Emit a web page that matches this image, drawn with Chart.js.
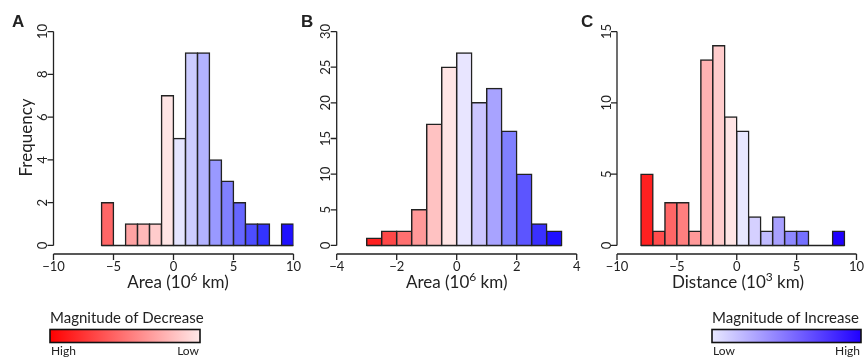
<!DOCTYPE html>
<html>
<head>
<meta charset="utf-8">
<script src="https://cdn.jsdelivr.net/npm/chart.js@4/dist/chart.umd.min.js"></script>
<style>
  html, body { margin: 0; padding: 0; background: #fff; }
  #wrap { position: relative; width: 864px; height: 358px; }
  #wrap canvas { position: absolute; left: 0; top: 0; }
</style>
</head>
<body>
<div id="wrap">
  <canvas id="chartA" width="864" height="358"></canvas>
  <canvas id="chartB" width="864" height="358"></canvas>
  <canvas id="chartC" width="864" height="358"></canvas>
</div>
<script>
// Panel A - change in area (10^6 km), bins of width 1 (left edges)
var binsA   = [-6, -5, -4, -3, -2, -1, 0, 1, 2, 3, 4, 5, 6, 7, 8, 9];
var countsA = [2, 0, 1, 1, 1, 7, 5, 9, 9, 4, 3, 2, 1, 1, 0, 1];
var xTicksA = [-10, -5, 0, 5, 10];
var yTicksA = [0, 2, 4, 6, 8, 10];

// Panel B - change in area (10^6 km), bins of width 0.5
var binsB   = [-3, -2.5, -2, -1.5, -1, -0.5, 0, 0.5, 1, 1.5, 2, 2.5, 3];
var countsB = [1, 2, 2, 5, 17, 25, 27, 20, 22, 16, 10, 3, 2];
var xTicksB = [-4, -2, 0, 2, 4];
var yTicksB = [0, 5, 10, 15, 20, 25, 30];

// Panel C - distance (10^3 km), bins of width 1
var binsC   = [-8, -7, -6, -5, -4, -3, -2, -1, 0, 1, 2, 3, 4, 5, 6, 7, 8];
var countsC = [5, 1, 3, 3, 1, 13, 14, 9, 8, 2, 1, 2, 1, 1, 0, 0, 1];
var xTicksC = [-10, -5, 0, 5, 10];
var yTicksC = [0, 5, 10, 15];

// bar fills, red = decrease, blue = increase
var fillA = ['#ff6666', '#ffa3a3', '#ffa3a3', '#ffb8b8', '#ffcccc', '#ffe5e5', '#e5e5ff', '#ccccff',
             '#b3b3ff', '#9999ff', '#8080ff', '#6666ff', '#4d4dff', '#3333ff', '#2a2aff', '#1f10ff'];
var fillB = ['#ff2020', '#ff4848', '#ff7070', '#ff9999', '#ffc2c2', '#ffe5e5', '#e8e5ff', '#cbc5ff',
             '#a8a3ff', '#8080ff', '#5c55ff', '#3a30ff', '#1f10ff'];
var fillC = ['#ff2020', '#ff4d4d', '#ff6666', '#ff7f7f', '#ff9999', '#ffb3b3', '#ffcccc', '#ffe5e5',
             '#e8e8ff', '#d5d0ff', '#c0bbff', '#a8a0ff', '#8e88ff', '#7570ff', '#5050ff', '#3030ff', '#2000ff'];

var INK = '#222';
var FONT = 'Lato, "Open Sans", sans-serif';

function fmt(v) {
  return v < 0 ? '\u2212' + Math.abs(v) : String(v);
}

// text with a raised part, centred on cx
function supText(ctx, parts, cx, y, size) {
  var widths = parts.map(function(p) {
    ctx.font = (p[1] ? Math.round(size * 0.7) : size) + 'px ' + FONT;
    return ctx.measureText(p[0]).width;
  });
  var total = widths.reduce(function(a, b) { return a + b; }, 0);
  var x = cx - total / 2;
  ctx.textAlign = 'left';
  parts.forEach(function(p, i) {
    ctx.font = (p[1] ? Math.round(size * 0.7) : size) + 'px ' + FONT;
    ctx.fillText(p[0], x, p[1] ? y - size * 0.38 : y);
    x += widths[i];
  });
}

function drawLegend(ctx, lg) {
  ctx.fillStyle = INK;
  ctx.font = '15px ' + FONT;
  ctx.textAlign = 'left';
  ctx.fillText(lg.title, lg.x, 323);
  var g = ctx.createLinearGradient(lg.x, 0, lg.x + lg.w, 0);
  g.addColorStop(0, lg.from);
  g.addColorStop(1, lg.to);
  ctx.fillStyle = g;
  ctx.fillRect(lg.x, 329.5, lg.w, 13);
  ctx.strokeStyle = '#111';
  ctx.lineWidth = 1.6;
  ctx.strokeRect(lg.x, 329.5, lg.w, 13);
  ctx.fillStyle = INK;
  ctx.font = '12px ' + FONT;
  ctx.textAlign = 'left';
  ctx.fillText(lg.left, lg.x + 1, 355);
  ctx.textAlign = 'right';
  ctx.fillText(lg.right, lg.x + lg.w - 1, 355);
}

// R style axes: detached lines from first to last tick, outward ticks
function rAxes(o) {
  return {
    id: 'rAxes',
    afterDraw: function(chart) {
      var ctx = chart.ctx, xs = chart.scales.x, ys = chart.scales.y, area = chart.chartArea;
      ctx.save();
      ctx.strokeStyle = INK;
      ctx.fillStyle = INK;
      ctx.lineWidth = 1.3;

      // x axis
      var yb = area.bottom;
      ctx.beginPath();
      ctx.moveTo(xs.getPixelForValue(o.xTicks[0]), yb);
      ctx.lineTo(xs.getPixelForValue(o.xTicks[o.xTicks.length - 1]), yb);
      o.xTicks.forEach(function(v) {
        var p = xs.getPixelForValue(v);
        ctx.moveTo(p, yb);
        ctx.lineTo(p, yb + 6);
      });
      ctx.stroke();
      ctx.font = '13px ' + FONT;
      ctx.textAlign = 'center';
      ctx.textBaseline = 'alphabetic';
      o.xTicks.forEach(function(v) {
        ctx.fillText(fmt(v), xs.getPixelForValue(v), yb + 16.5);
      });

      // y axis
      var xl = area.left;
      ctx.beginPath();
      ctx.moveTo(xl, ys.getPixelForValue(o.yTicks[0]));
      ctx.lineTo(xl, ys.getPixelForValue(o.yTicks[o.yTicks.length - 1]));
      o.yTicks.forEach(function(v) {
        var p = ys.getPixelForValue(v);
        ctx.moveTo(xl, p);
        ctx.lineTo(xl - 6, p);
      });
      ctx.stroke();
      o.yTicks.forEach(function(v) {
        ctx.save();
        ctx.translate(xl - 6.5, ys.getPixelForValue(v));
        ctx.rotate(-Math.PI / 2);
        ctx.fillText(String(v), 0, 0);
        ctx.restore();
      });

      // axis titles and panel letter
      supText(ctx, o.xTitle, o.xTitleX, 287.5, 17);
      if (o.yTitle) {
        ctx.save();
        ctx.translate(32, 137.5);
        ctx.rotate(-Math.PI / 2);
        ctx.font = '17px ' + FONT;
        ctx.textAlign = 'center';
        ctx.fillText(o.yTitle, 0, 0);
        ctx.restore();
      }
      ctx.font = 'bold 17px "Liberation Sans", Arial, sans-serif';
      ctx.textAlign = 'left';
      ctx.fillText(o.letter, o.letterX, 27);

      if (o.legend) drawLegend(ctx, o.legend);
      ctx.restore();
    }
  };
}

function histChart(id, o) {
  var w = o.binWidth;
  var yMax = o.yTicks[o.yTicks.length - 1];
  var ext = 0.04 * yMax;
  return new Chart(document.getElementById(id), {
    type: 'bar',
    data: {
      datasets: [{
        type: 'bar',
        data: o.bins.map(function(b, i) { return { x: b + w / 2, y: o.counts[i] }; }),
        backgroundColor: o.colors,
        borderColor: INK,
        borderWidth: 1.5,
        borderSkipped: false,
        inflateAmount: 0.75,
        barPercentage: 1,
        categoryPercentage: 1
      }, {
        // base line of the empty bins
        type: 'line',
        data: [{ x: o.bins[0], y: 0 }, { x: o.bins[o.bins.length - 1] + w, y: 0 }],
        borderColor: INK,
        borderWidth: 1.5,
        pointRadius: 0
      }]
    },
    options: {
      responsive: false,
      animation: false,
      devicePixelRatio: 1,
      layout: { padding: o.pad },
      plugins: { legend: { display: false }, tooltip: { enabled: false } },
      scales: {
        x: {
          type: 'linear', display: false, offset: false,
          min: o.xTicks[0], max: o.xTicks[o.xTicks.length - 1],
          ticks: { stepSize: o.xTicks[1] - o.xTicks[0] }
        },
        y: { display: false, min: -ext, max: yMax + ext }
      }
    },
    plugins: [rAxes(o)]
  });
}

histChart('chartA', {
  bins: binsA, counts: countsA, colors: fillA, binWidth: 1,
  xTicks: xTicksA, yTicks: yTicksA,
  pad: { left: 53.5, right: 570.5, top: 23, bottom: 104 },
  xTitle: [['Area (10', false], ['6', true], [' km)', false]], xTitleX: 178,
  yTitle: 'Frequency', letter: 'A', letterX: 12,
  legend: { x: 50, w: 150, title: 'Magnitude of Decrease', left: 'High', right: 'Low',
            from: '#ff0000', to: '#ffe8e8' }
});

histChart('chartB', {
  bins: binsB, counts: countsB, colors: fillB, binWidth: 0.5,
  xTicks: xTicksB, yTicks: yTicksB,
  pad: { left: 336.7, right: 287.3, top: 23, bottom: 104 },
  xTitle: [['Area (10', false], ['6', true], [' km)', false]], xTitleX: 456.7,
  letter: 'B', letterX: 301
});

histChart('chartC', {
  bins: binsC, counts: countsC, colors: fillC, binWidth: 1,
  xTicks: xTicksC, yTicks: yTicksC,
  pad: { left: 617, right: 7.5, top: 23, bottom: 104 },
  xTitle: [['Distance (10', false], ['3', true], [' km)', false]], xTitleX: 738,
  letter: 'C', letterX: 581,
  legend: { x: 712, w: 149, title: 'Magnitude of Increase', left: 'Low', right: 'High',
            from: '#e8e8ff', to: '#2000ff' }
});
</script>
</body>
</html>
